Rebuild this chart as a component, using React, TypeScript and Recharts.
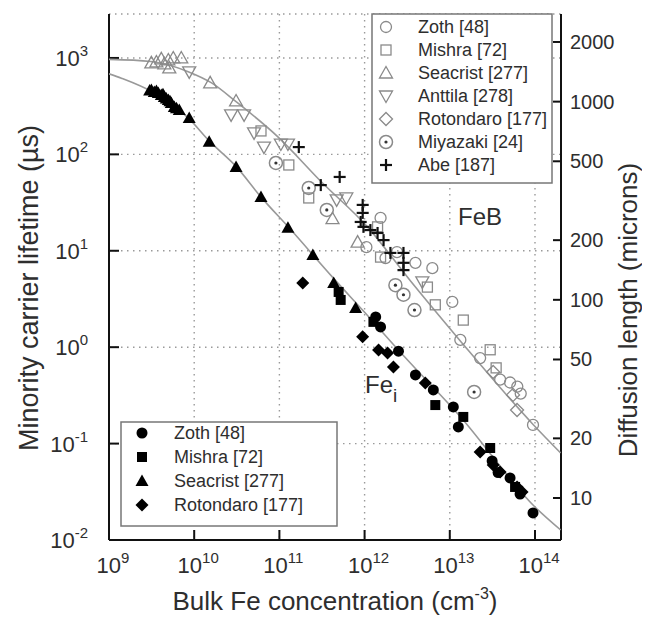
import React from 'react';
import { ScatterChart, Scatter, XAxis, YAxis, CartesianGrid } from 'recharts';

// ---------- axis setup ----------
const xTicks = [1e9, 1e10, 1e11, 1e12, 1e13, 1e14];
const yTicks = [0.01, 0.1, 1, 10, 100, 1000];
const diffTicks = [10, 20, 50, 100, 200, 500, 1000, 2000];
const xDomain: [number, number] = [1e9, 2.02e14];
const yDomain: [number, number] = [0.01, 2857];
const diffDomain: [number, number] = [6.14, 2768];

const feBLegend = ['Zoth [48]', 'Mishra [72]', 'Seacrist [277]', 'Anttila [278]', 'Rotondaro [177]', 'Miyazaki [24]', 'Abe [187]'];
const feiLegend = ['Zoth [48]', 'Mishra [72]', 'Seacrist [277]', 'Rotondaro [177]'];

// ---------- fitted curves (N cm^-3, tau us) ----------
const fitFeB = [[1e9, 966], [3.1e9, 920], [8.5e9, 721], [1.6e10, 551], [3.1e10, 352], [9.6e10, 152], [3.1e11, 52], [1.08e12, 17.7], [3.5e12, 4.8], [1.3e13, 1.19], [9.5e13, 0.158], [2e14, 0.08]];
const fitFei = [[1e9, 685], [1.4e9, 616], [3.4e9, 433], [8.5e9, 239], [1.5e10, 138], [3.1e10, 75], [6.1e10, 36], [1.3e11, 17.3], [4.3e11, 5.2], [1e12, 2.3], [3e12, 0.78], [1.33e13, 0.19], [1e14, 0.022], [2e14, 0.0127]];

// ---------- FeB data (open symbols) ----------
const zothFeB = [[1.54e12, 21.9], [1.05e12, 10.9], [1.76e12, 8.4], [2.4e12, 9.7], [3.95e12, 7.5], [6.24e12, 6.6], [1.07e13, 2.95], [1.33e13, 1.19], [2.27e13, 0.77], [3.9e13, 0.46], [5.1e13, 0.43], [6.2e13, 0.39], [6.8e13, 0.33], [9.48e13, 0.156]];
const mishraFeB = [[6.08e10, 175], [1.29e11, 77.6], [2.21e11, 35.3], [1.42e12, 17.7], [1.54e12, 8.6], [5.46e12, 4.2], [6.76e12, 2.75], [1.44e13, 1.91], [2.98e13, 0.94], [3.5e13, 0.61]];
const seacristFeB = [[3.14e9, 888], [3.6e9, 909], [4.11e9, 977], [4.46e9, 867], [4.97e9, 953], [5.68e9, 1000], [7.05e9, 1000], [5.1e9, 788], [1.54e10, 551], [3.1e10, 358], [4.2e11, 21.5], [8.28e11, 12.3]];
const anttilaFeB = [[8.74e9, 716], [2.71e10, 257], [3.85e10, 257], [5.04e10, 167], [6.59e10, 119], [1.04e11, 128], [1.26e11, 128], [4.7e11, 33.7], [6.1e11, 35.3], [4.76e12, 4.75]];
const rotondaroFeB = [[3.23e13, 0.553], [5.53e13, 0.32], [6.16e13, 0.223]];
const miyazakiFeB = [[9.1e10, 81.4], [2.21e11, 44.8], [3.6e11, 26.5], [2.3e12, 4.4], [2.86e12, 3.5], [3.85e12, 2.43], [1.93e13, 0.343]];
const abeFeB = [[1.69e11, 119], [3.06e11, 48], [5.1e11, 58.3], [9.5e11, 29.9], [9.5e11, 24.7], [9.0e11, 19.9], [9.7e11, 17.7], [1.17e12, 16.4], [1.42e12, 15.3], [1.67e12, 12.9], [2.01e12, 9.5], [2.86e12, 9.5], [2.86e12, 7.5], [2.86e12, 6.3]];

// ---------- Fe_i data (filled symbols) ----------
const zothFei = [[1.35e12, 2.06], [1.54e12, 1.62], [2.5e12, 0.91], [3.95e12, 0.515], [6.41e12, 0.36], [1.1e13, 0.24], [1.26e13, 0.149], [3.14e13, 0.066], [3.69e13, 0.05], [5.1e13, 0.044], [6.68e13, 0.03], [9.48e13, 0.0191]];
const mishraFei = [[4.96e11, 3.74], [5.24e11, 3.09], [1.27e12, 1.83], [6.76e12, 0.251], [1.44e13, 0.189], [2.98e13, 0.09], [5.84e13, 0.0355]];
const seacristFei = [[3.0e9, 460], [3.14e9, 465], [3.4e9, 444], [3.6e9, 455], [3.79e9, 433], [4.11e9, 413], [4.3e9, 420], [4.46e9, 394], [4.7e9, 380], [4.97e9, 366], [5.2e9, 355], [5.38e9, 341], [5.84e9, 310], [6.2e9, 300], [6.68e9, 289], [8.74e9, 239], [1.5e10, 135], [3.1e10, 74], [6.08e10, 36.1], [1.26e11, 17.3], [2.47e11, 9.04], [4.34e11, 4.64], [7.85e11, 2.55]];
const rotondaroFei = [[1.88e11, 4.64], [9.48e11, 1.28], [1.46e12, 0.935], [1.86e12, 0.871], [2.18e12, 0.623], [5.16e12, 0.426], [2.27e13, 0.0818], [3.23e13, 0.06], [3.9e13, 0.0507], [6.16e13, 0.0355], [7.05e13, 0.0315]];

const toPts = (arr: number[][]) => arr.map(([x, y]) => ({ x, y }));

// ---------- styling ----------
const FONT = '"Liberation Sans", Arial, Helvetica, sans-serif';
const GRAY = '#8a8a8a';
const TXT = '#2e2e2e';

type SP = { cx?: number; cy?: number };
const shapes: Record<string, (p: SP) => React.ReactElement> = {
  oCircle: ({ cx = 0, cy = 0 }) => <circle cx={cx} cy={cy} r={5.5} fill="none" stroke={GRAY} strokeWidth={1.3} />,
  oSquare: ({ cx = 0, cy = 0 }) => <rect x={cx - 5} y={cy - 5} width={10} height={10} fill="none" stroke={GRAY} strokeWidth={1.3} />,
  oUp: ({ cx = 0, cy = 0 }) => <polygon points={`${cx},${cy - 6.5} ${cx - 6.5},${cy + 5} ${cx + 6.5},${cy + 5}`} fill="none" stroke={GRAY} strokeWidth={1.3} />,
  oDown: ({ cx = 0, cy = 0 }) => <polygon points={`${cx},${cy + 6.5} ${cx - 6.5},${cy - 5} ${cx + 6.5},${cy - 5}`} fill="none" stroke={GRAY} strokeWidth={1.3} />,
  oDiamond: ({ cx = 0, cy = 0 }) => <polygon points={`${cx},${cy - 6.5} ${cx + 6.5},${cy} ${cx},${cy + 6.5} ${cx - 6.5},${cy}`} fill="none" stroke={GRAY} strokeWidth={1.3} />,
  oDot: ({ cx = 0, cy = 0 }) => (
    <g>
      <circle cx={cx} cy={cy} r={6.5} fill="none" stroke={GRAY} strokeWidth={1.5} />
      <circle cx={cx} cy={cy} r={1.6} fill="#333" />
    </g>
  ),
  plus: ({ cx = 0, cy = 0 }) => (
    <g stroke="#111" strokeWidth={2.2}>
      <line x1={cx - 6} y1={cy} x2={cx + 6} y2={cy} />
      <line x1={cx} y1={cy - 6} x2={cx} y2={cy + 6} />
    </g>
  ),
  fCircle: ({ cx = 0, cy = 0 }) => <circle cx={cx} cy={cy} r={5.5} fill="#000" />,
  fSquare: ({ cx = 0, cy = 0 }) => <rect x={cx - 5} y={cy - 5} width={10} height={10} fill="#000" />,
  fUp: ({ cx = 0, cy = 0 }) => <polygon points={`${cx},${cy - 6.5} ${cx - 6.5},${cy + 5} ${cx + 6.5},${cy + 5}`} fill="#000" />,
  fDiamond: ({ cx = 0, cy = 0 }) => <polygon points={`${cx},${cy - 6.5} ${cx + 6.5},${cy} ${cx},${cy + 6.5} ${cx - 6.5},${cy}`} fill="#000" />,
};

const feBShapes = ['oCircle', 'oSquare', 'oUp', 'oDown', 'oDiamond', 'oDot', 'plus'];
const feiShapes = ['fCircle', 'fSquare', 'fUp', 'fDiamond'];

const PowTickLeft = (props: any) => {
  const { x, y, payload } = props;
  const e = Math.round(Math.log10(payload.value));
  return (
    <text x={x} y={y + 8} textAnchor="end" fontFamily={FONT} fontSize={22} fill={TXT}>
      <tspan>10</tspan>
      <tspan dy={-10} fontSize={15}>{e}</tspan>
    </text>
  );
};

const PowTickBottom = (props: any) => {
  const { x, y, payload } = props;
  const e = Math.round(Math.log10(payload.value));
  return (
    <text x={x + 4} y={y} textAnchor="middle" fontFamily={FONT} fontSize={22} fill={TXT}>
      <tspan>10</tspan>
      <tspan dy={-10} fontSize={15}>{e}</tspan>
    </text>
  );
};

const RightTick = (props: any) => {
  const { x, y, payload } = props;
  return (
    <text x={x} y={y + 7} textAnchor="start" fontFamily={FONT} fontSize={20} fill={TXT}>
      {payload.value}
    </text>
  );
};

const EmptyTick = () => <g />;
const NoShape = () => <g />;

const W = 642;
const H = 609;

export default function App() {
  const feBSeries = [zothFeB, mishraFeB, seacristFeB, anttilaFeB, rotondaroFeB, miyazakiFeB, abeFeB];
  const feiSeries = [zothFei, mishraFei, seacristFei, rotondaroFei];
  return (
    <div style={{ position: 'relative', width: W, height: H }}>
      <ScatterChart width={W} height={H} margin={{ top: 6, right: 0, bottom: 0, left: 0 }}>
        <CartesianGrid stroke="#9a9a9a" strokeWidth={1.4} strokeDasharray="1.5 4.5" />
        <XAxis
          type="number" dataKey="x" scale="log" domain={xDomain} allowDataOverflow ticks={xTicks} interval={0}
          height={77} tickSize={-10} tickMargin={43} tick={<PowTickBottom />}
          axisLine={{ stroke: '#111', strokeWidth: 2 }} tickLine={{ stroke: '#111', strokeWidth: 2 }}
        />
        <XAxis
          xAxisId="top" orientation="top" type="number" dataKey="x" scale="log" domain={xDomain} allowDataOverflow ticks={xTicks} interval={0}
          height={0} tickSize={-10} tick={<EmptyTick />}
          axisLine={{ stroke: '#111', strokeWidth: 2 }} tickLine={{ stroke: '#111', strokeWidth: 2 }}
        />
        <YAxis
          type="number" dataKey="y" scale="log" domain={yDomain} allowDataOverflow ticks={yTicks} interval={0}
          width={101} tickSize={-10} tickMargin={31} tick={<PowTickLeft />}
          axisLine={{ stroke: '#111', strokeWidth: 2 }} tickLine={{ stroke: '#111', strokeWidth: 2 }}
        />
        <YAxis
          yAxisId="right" orientation="right" type="number" dataKey="y" scale="log" domain={diffDomain} allowDataOverflow ticks={diffTicks} interval={0}
          width={89} tickSize={-8} tickMargin={17} tick={<RightTick />}
          axisLine={{ stroke: '#111', strokeWidth: 2 }} tickLine={{ stroke: '#111', strokeWidth: 2 }}
        />
        <Scatter data={toPts(fitFeB)} line={{ stroke: '#999', strokeWidth: 1.6 }} lineJointType="monotoneX" shape={NoShape} isAnimationActive={false} />
        <Scatter data={toPts(fitFei)} line={{ stroke: '#999', strokeWidth: 1.6 }} lineJointType="monotoneX" shape={NoShape} isAnimationActive={false} />
        {feBSeries.map((s, i) => (
          <Scatter key={'b' + i} name={feBLegend[i]} data={toPts(s)} shape={shapes[feBShapes[i]] as any} isAnimationActive={false} />
        ))}
        {feiSeries.map((s, i) => (
          <Scatter key={'f' + i} name={feiLegend[i]} data={toPts(s)} shape={shapes[feiShapes[i]] as any} isAnimationActive={false} />
        ))}
        <Scatter xAxisId="top" yAxisId="right" data={[]} shape={NoShape} isAnimationActive={false} />
      </ScatterChart>
      <svg width={W} height={H} style={{ position: 'absolute', left: 0, top: 0, pointerEvents: 'none' }} fontFamily={FONT}>
        {/* FeB legend */}
        <rect x={364} y={6} width={180} height={169} fill="#fff" stroke="#777" strokeWidth={1.5} />
        {feBLegend.map((t, i) => {
          const cy = 19 + i * 23;
          return (
            <g key={t}>
              {shapes[feBShapes[i]]({ cx: 378, cy })}
              <text x={410} y={cy + 6} fontSize={18} fill={TXT}>{t}</text>
            </g>
          );
        })}
        {/* Fe_i legend */}
        <rect x={113} y={414} width={216} height={104} fill="#fff" stroke="#777" strokeWidth={1.5} />
        {feiLegend.map((t, i) => {
          const cy = 425 + i * 24;
          return (
            <g key={t}>
              {shapes[feiShapes[i]]({ cx: 134, cy })}
              <text x={166} y={cy + 6} fontSize={18} fill={TXT}>{t}</text>
            </g>
          );
        })}
        {/* annotations */}
        <text x={450} y={217} fontSize={24} fill={TXT}>FeB</text>
        <text x={357} y={385} fontSize={24} fill={TXT}>Fe<tspan dy={9} fontSize={19}>i</tspan></text>
        {/* axis titles */}
        <text x={327} y={602} textAnchor="middle" fontSize={26} fill={TXT}>
          Bulk Fe concentration (cm<tspan dy={-11} fontSize={16}>-3</tspan><tspan dy={11}>)</tspan>
        </text>
        <text x={21} y={280} textAnchor="middle" fontSize={27} fill={TXT} transform="rotate(-90 21 280)" dominantBaseline="central">
          Minority carrier lifetime (µs)
        </text>
        <text x={620} y={302} textAnchor="middle" fontSize={26} fill={TXT} transform="rotate(-90 620 302)" dominantBaseline="central">
          Diffusion length (microns)
        </text>
      </svg>
    </div>
  );
}
